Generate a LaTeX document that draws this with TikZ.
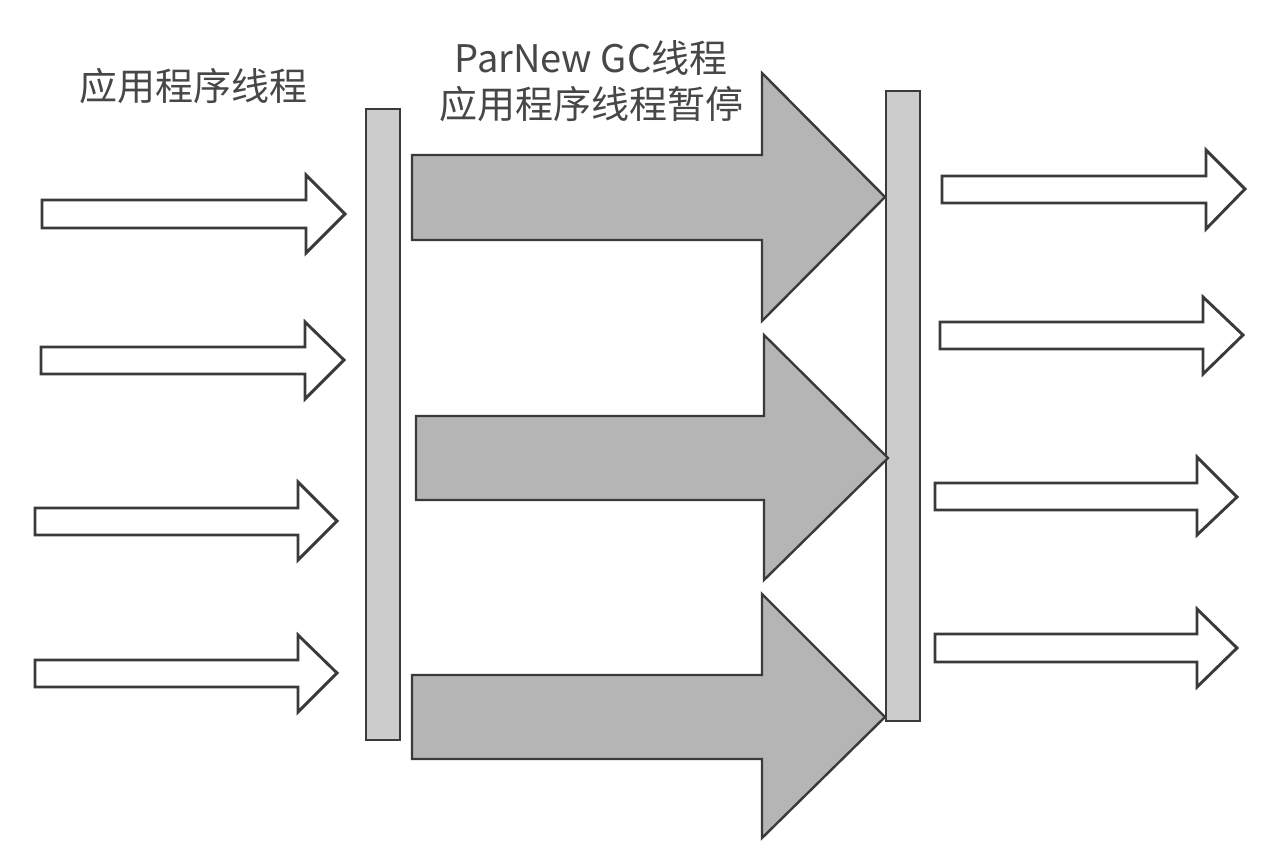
\documentclass[tikz,border=0pt]{standalone}
\usepackage{fontspec}
\newfontfamily\cjk{Noto Sans CJK SC}
\definecolor{edge}{HTML}{3A3A3A}
\definecolor{barfill}{HTML}{CCCCCC}
\definecolor{bigfill}{HTML}{B5B5B5}
\definecolor{txt}{HTML}{474747}
\tikzset{
  thinarrow/.style={draw=edge, fill=white, line width=2.9pt, line join=miter},
  bigarrow/.style={draw=edge, fill=bigfill, line width=2.4pt, line join=miter},
  barbox/.style={draw=edge, fill=barfill, line width=2.8pt, inner sep=0pt, minimum width=34pt},
  lbl/.style={text=txt, font=\cjk\fontsize{38}{46}\selectfont, inner sep=0pt, align=center}
}
% #1 x0, #2 xh, #3 xt, #4 shaft top, #5 shaft bottom, #6 head top, #7 head bottom, #8 tip y, #9 style
\newcommand\blockarr[9]{%
  \path[#9] (#1,#4) -- (#2,#4) -- (#2,#6) -- (#3,#8) -- (#2,#7) -- (#2,#5) -- (#1,#5) -- cycle;}
\begin{document}
\begin{tikzpicture}[x=1pt,y=-1pt]
\useasboundingbox (0,0) rectangle (1268,842);
\fill[white] (0,0) rectangle (1268,842);
% labels
\node[lbl] (lapp) at (193,86) {应用程序线程};
\node[lbl] (lgc) at (591,58) {ParNew GC线程};
\node[lbl] (lpause) at (591,104) {应用程序线程暂停};
% bars
\node[barbox, minimum height=631pt] (lbar) at (383,424.5) {};
\node[barbox, minimum height=630pt] (rbar) at (903,406) {};
% left thin arrows
\blockarr{42}{306}{345}{200}{228}{175}{253}{214}{thinarrow}
\blockarr{41}{305}{344}{347}{374}{322}{399}{360}{thinarrow}
\blockarr{35}{298}{337}{508}{535}{482}{560}{521}{thinarrow}
\blockarr{35}{298}{337}{660}{687}{635}{712}{673}{thinarrow}
% big grey arrows
\blockarr{412}{762}{885}{155}{240}{73}{321}{197}{bigarrow}
\blockarr{416}{764}{888}{416}{500}{335}{580}{458}{bigarrow}
\blockarr{412}{762}{885}{675}{759}{594}{838}{717}{bigarrow}
% right thin arrows
\blockarr{942}{1206}{1245}{176}{203}{150}{229}{189}{thinarrow}
\blockarr{940}{1203}{1243}{322}{349}{297}{374}{335}{thinarrow}
\blockarr{935}{1197}{1237}{483}{510}{457}{535}{497}{thinarrow}
\blockarr{935}{1197}{1237}{634}{662}{609}{687}{648}{thinarrow}
\end{tikzpicture}
\end{document}
